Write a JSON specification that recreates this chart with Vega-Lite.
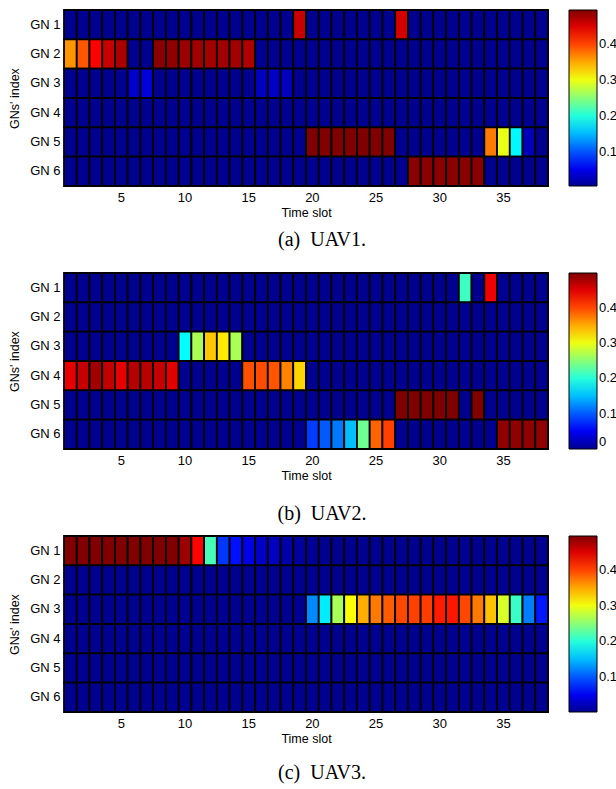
{
"$schema": "https://vega.github.io/schema/vega-lite/v6.json",
"background": "white",
"padding": {"left": 8, "top": 8, "right": 0, "bottom": 5},
"config": {
  "font": "Liberation Sans",
  "view": {"stroke": "#000", "strokeWidth": 1},
  "axis": {"labelFont": "Liberation Sans", "labelFontSize": 13, "labelColor": "#000", "titleFont": "Liberation Sans", "titleFontSize": 12.5, "titleFontWeight": "normal", "titleColor": "#000", "ticks": false, "domain": false, "grid": false},
  "legend": {"gradientLength": 176, "gradientThickness": 28, "gradientStrokeColor": "#000", "gradientStrokeWidth": 1, "labelFont": "Liberation Sans", "labelFontSize": 13, "labelColor": "#000", "labelBaseline": "middle", "labelOffset": 5, "offset": 21, "padding": 0},
  "concat": {"spacing": 10}
},
"resolve": {"scale": {"color": "independent"}, "legend": {"color": "independent"}},
"datasets": {
"u1": [
{"g":"GN 1","t":1,"v":0.004},{"g":"GN 1","t":2,"v":0.004},{"g":"GN 1","t":3,"v":0.004},{"g":"GN 1","t":4,"v":0.004},{"g":"GN 1","t":5,"v":0.004},{"g":"GN 1","t":6,"v":0.004},{"g":"GN 1","t":7,"v":0.004},{"g":"GN 1","t":8,"v":0.004},{"g":"GN 1","t":9,"v":0.004},{"g":"GN 1","t":10,"v":0.004},
{"g":"GN 1","t":11,"v":0.004},{"g":"GN 1","t":12,"v":0.004},{"g":"GN 1","t":13,"v":0.004},{"g":"GN 1","t":14,"v":0.004},{"g":"GN 1","t":15,"v":0.004},{"g":"GN 1","t":16,"v":0.004},{"g":"GN 1","t":17,"v":0.004},{"g":"GN 1","t":18,"v":0.004},{"g":"GN 1","t":19,"v":0.46},{"g":"GN 1","t":20,"v":0.004},
{"g":"GN 1","t":21,"v":0.004},{"g":"GN 1","t":22,"v":0.004},{"g":"GN 1","t":23,"v":0.004},{"g":"GN 1","t":24,"v":0.004},{"g":"GN 1","t":25,"v":0.004},{"g":"GN 1","t":26,"v":0.004},{"g":"GN 1","t":27,"v":0.455},{"g":"GN 1","t":28,"v":0.004},{"g":"GN 1","t":29,"v":0.004},{"g":"GN 1","t":30,"v":0.004},
{"g":"GN 1","t":31,"v":0.004},{"g":"GN 1","t":32,"v":0.004},{"g":"GN 1","t":33,"v":0.004},{"g":"GN 1","t":34,"v":0.004},{"g":"GN 1","t":35,"v":0.004},{"g":"GN 1","t":36,"v":0.004},{"g":"GN 1","t":37,"v":0.004},{"g":"GN 1","t":38,"v":0.004},
{"g":"GN 2","t":1,"v":0.36},{"g":"GN 2","t":2,"v":0.39},{"g":"GN 2","t":3,"v":0.432},{"g":"GN 2","t":4,"v":0.46},{"g":"GN 2","t":5,"v":0.474},{"g":"GN 2","t":6,"v":0.004},{"g":"GN 2","t":7,"v":0.004},{"g":"GN 2","t":8,"v":0.49},{"g":"GN 2","t":9,"v":0.487},{"g":"GN 2","t":10,"v":0.482},
{"g":"GN 2","t":11,"v":0.48},{"g":"GN 2","t":12,"v":0.478},{"g":"GN 2","t":13,"v":0.479},{"g":"GN 2","t":14,"v":0.478},{"g":"GN 2","t":15,"v":0.472},{"g":"GN 2","t":16,"v":0.004},{"g":"GN 2","t":17,"v":0.004},{"g":"GN 2","t":18,"v":0.004},{"g":"GN 2","t":19,"v":0.004},{"g":"GN 2","t":20,"v":0.004},
{"g":"GN 2","t":21,"v":0.004},{"g":"GN 2","t":22,"v":0.004},{"g":"GN 2","t":23,"v":0.004},{"g":"GN 2","t":24,"v":0.004},{"g":"GN 2","t":25,"v":0.004},{"g":"GN 2","t":26,"v":0.004},{"g":"GN 2","t":27,"v":0.004},{"g":"GN 2","t":28,"v":0.004},{"g":"GN 2","t":29,"v":0.004},{"g":"GN 2","t":30,"v":0.004},
{"g":"GN 2","t":31,"v":0.004},{"g":"GN 2","t":32,"v":0.004},{"g":"GN 2","t":33,"v":0.004},{"g":"GN 2","t":34,"v":0.004},{"g":"GN 2","t":35,"v":0.004},{"g":"GN 2","t":36,"v":0.004},{"g":"GN 2","t":37,"v":0.004},{"g":"GN 2","t":38,"v":0.004},
{"g":"GN 3","t":1,"v":0.004},{"g":"GN 3","t":2,"v":0.004},{"g":"GN 3","t":3,"v":0.004},{"g":"GN 3","t":4,"v":0.004},{"g":"GN 3","t":5,"v":0.004},{"g":"GN 3","t":6,"v":0.033},{"g":"GN 3","t":7,"v":0.04},{"g":"GN 3","t":8,"v":0.004},{"g":"GN 3","t":9,"v":0.004},{"g":"GN 3","t":10,"v":0.004},
{"g":"GN 3","t":11,"v":0.004},{"g":"GN 3","t":12,"v":0.004},{"g":"GN 3","t":13,"v":0.004},{"g":"GN 3","t":14,"v":0.004},{"g":"GN 3","t":15,"v":0.004},{"g":"GN 3","t":16,"v":0.028},{"g":"GN 3","t":17,"v":0.03},{"g":"GN 3","t":18,"v":0.026},{"g":"GN 3","t":19,"v":0.004},{"g":"GN 3","t":20,"v":0.004},
{"g":"GN 3","t":21,"v":0.004},{"g":"GN 3","t":22,"v":0.004},{"g":"GN 3","t":23,"v":0.004},{"g":"GN 3","t":24,"v":0.004},{"g":"GN 3","t":25,"v":0.004},{"g":"GN 3","t":26,"v":0.004},{"g":"GN 3","t":27,"v":0.004},{"g":"GN 3","t":28,"v":0.004},{"g":"GN 3","t":29,"v":0.004},{"g":"GN 3","t":30,"v":0.004},
{"g":"GN 3","t":31,"v":0.004},{"g":"GN 3","t":32,"v":0.004},{"g":"GN 3","t":33,"v":0.004},{"g":"GN 3","t":34,"v":0.004},{"g":"GN 3","t":35,"v":0.004},{"g":"GN 3","t":36,"v":0.004},{"g":"GN 3","t":37,"v":0.004},{"g":"GN 3","t":38,"v":0.004},
{"g":"GN 4","t":1,"v":0.004},{"g":"GN 4","t":2,"v":0.004},{"g":"GN 4","t":3,"v":0.004},{"g":"GN 4","t":4,"v":0.004},{"g":"GN 4","t":5,"v":0.004},{"g":"GN 4","t":6,"v":0.004},{"g":"GN 4","t":7,"v":0.004},{"g":"GN 4","t":8,"v":0.004},{"g":"GN 4","t":9,"v":0.004},{"g":"GN 4","t":10,"v":0.004},
{"g":"GN 4","t":11,"v":0.004},{"g":"GN 4","t":12,"v":0.004},{"g":"GN 4","t":13,"v":0.004},{"g":"GN 4","t":14,"v":0.004},{"g":"GN 4","t":15,"v":0.004},{"g":"GN 4","t":16,"v":0.004},{"g":"GN 4","t":17,"v":0.004},{"g":"GN 4","t":18,"v":0.004},{"g":"GN 4","t":19,"v":0.004},{"g":"GN 4","t":20,"v":0.004},
{"g":"GN 4","t":21,"v":0.004},{"g":"GN 4","t":22,"v":0.004},{"g":"GN 4","t":23,"v":0.004},{"g":"GN 4","t":24,"v":0.004},{"g":"GN 4","t":25,"v":0.004},{"g":"GN 4","t":26,"v":0.004},{"g":"GN 4","t":27,"v":0.004},{"g":"GN 4","t":28,"v":0.004},{"g":"GN 4","t":29,"v":0.004},{"g":"GN 4","t":30,"v":0.004},
{"g":"GN 4","t":31,"v":0.004},{"g":"GN 4","t":32,"v":0.004},{"g":"GN 4","t":33,"v":0.004},{"g":"GN 4","t":34,"v":0.004},{"g":"GN 4","t":35,"v":0.004},{"g":"GN 4","t":36,"v":0.004},{"g":"GN 4","t":37,"v":0.004},{"g":"GN 4","t":38,"v":0.004},
{"g":"GN 5","t":1,"v":0.004},{"g":"GN 5","t":2,"v":0.004},{"g":"GN 5","t":3,"v":0.004},{"g":"GN 5","t":4,"v":0.004},{"g":"GN 5","t":5,"v":0.004},{"g":"GN 5","t":6,"v":0.004},{"g":"GN 5","t":7,"v":0.004},{"g":"GN 5","t":8,"v":0.004},{"g":"GN 5","t":9,"v":0.004},{"g":"GN 5","t":10,"v":0.004},
{"g":"GN 5","t":11,"v":0.004},{"g":"GN 5","t":12,"v":0.004},{"g":"GN 5","t":13,"v":0.004},{"g":"GN 5","t":14,"v":0.004},{"g":"GN 5","t":15,"v":0.004},{"g":"GN 5","t":16,"v":0.004},{"g":"GN 5","t":17,"v":0.004},{"g":"GN 5","t":18,"v":0.004},{"g":"GN 5","t":19,"v":0.004},{"g":"GN 5","t":20,"v":0.495},
{"g":"GN 5","t":21,"v":0.495},{"g":"GN 5","t":22,"v":0.495},{"g":"GN 5","t":23,"v":0.495},{"g":"GN 5","t":24,"v":0.495},{"g":"GN 5","t":25,"v":0.495},{"g":"GN 5","t":26,"v":0.495},{"g":"GN 5","t":27,"v":0.004},{"g":"GN 5","t":28,"v":0.004},{"g":"GN 5","t":29,"v":0.004},{"g":"GN 5","t":30,"v":0.004},
{"g":"GN 5","t":31,"v":0.004},{"g":"GN 5","t":32,"v":0.004},{"g":"GN 5","t":33,"v":0.004},{"g":"GN 5","t":34,"v":0.373},{"g":"GN 5","t":35,"v":0.297},{"g":"GN 5","t":36,"v":0.18},{"g":"GN 5","t":37,"v":0.025},{"g":"GN 5","t":38,"v":0.004},
{"g":"GN 6","t":1,"v":0.004},{"g":"GN 6","t":2,"v":0.004},{"g":"GN 6","t":3,"v":0.004},{"g":"GN 6","t":4,"v":0.004},{"g":"GN 6","t":5,"v":0.004},{"g":"GN 6","t":6,"v":0.004},{"g":"GN 6","t":7,"v":0.004},{"g":"GN 6","t":8,"v":0.004},{"g":"GN 6","t":9,"v":0.004},{"g":"GN 6","t":10,"v":0.004},
{"g":"GN 6","t":11,"v":0.004},{"g":"GN 6","t":12,"v":0.004},{"g":"GN 6","t":13,"v":0.004},{"g":"GN 6","t":14,"v":0.004},{"g":"GN 6","t":15,"v":0.004},{"g":"GN 6","t":16,"v":0.004},{"g":"GN 6","t":17,"v":0.004},{"g":"GN 6","t":18,"v":0.004},{"g":"GN 6","t":19,"v":0.004},{"g":"GN 6","t":20,"v":0.004},
{"g":"GN 6","t":21,"v":0.004},{"g":"GN 6","t":22,"v":0.004},{"g":"GN 6","t":23,"v":0.004},{"g":"GN 6","t":24,"v":0.004},{"g":"GN 6","t":25,"v":0.004},{"g":"GN 6","t":26,"v":0.004},{"g":"GN 6","t":27,"v":0.004},{"g":"GN 6","t":28,"v":0.49},{"g":"GN 6","t":29,"v":0.49},{"g":"GN 6","t":30,"v":0.49},
{"g":"GN 6","t":31,"v":0.49},{"g":"GN 6","t":32,"v":0.49},{"g":"GN 6","t":33,"v":0.49},{"g":"GN 6","t":34,"v":0.004},{"g":"GN 6","t":35,"v":0.004},{"g":"GN 6","t":36,"v":0.004},{"g":"GN 6","t":37,"v":0.004},{"g":"GN 6","t":38,"v":0.004}
],
"u2": [
{"g":"GN 1","t":1,"v":0},{"g":"GN 1","t":2,"v":0},{"g":"GN 1","t":3,"v":0},{"g":"GN 1","t":4,"v":0},{"g":"GN 1","t":5,"v":0},{"g":"GN 1","t":6,"v":0},{"g":"GN 1","t":7,"v":0},{"g":"GN 1","t":8,"v":0},{"g":"GN 1","t":9,"v":0},{"g":"GN 1","t":10,"v":0},
{"g":"GN 1","t":11,"v":0},{"g":"GN 1","t":12,"v":0},{"g":"GN 1","t":13,"v":0},{"g":"GN 1","t":14,"v":0},{"g":"GN 1","t":15,"v":0},{"g":"GN 1","t":16,"v":0},{"g":"GN 1","t":17,"v":0},{"g":"GN 1","t":18,"v":0},{"g":"GN 1","t":19,"v":0},{"g":"GN 1","t":20,"v":0},
{"g":"GN 1","t":21,"v":0},{"g":"GN 1","t":22,"v":0},{"g":"GN 1","t":23,"v":0},{"g":"GN 1","t":24,"v":0},{"g":"GN 1","t":25,"v":0},{"g":"GN 1","t":26,"v":0},{"g":"GN 1","t":27,"v":0},{"g":"GN 1","t":28,"v":0},{"g":"GN 1","t":29,"v":0},{"g":"GN 1","t":30,"v":0},
{"g":"GN 1","t":31,"v":0},{"g":"GN 1","t":32,"v":0.212},{"g":"GN 1","t":33,"v":0},{"g":"GN 1","t":34,"v":0.442},{"g":"GN 1","t":35,"v":0},{"g":"GN 1","t":36,"v":0},{"g":"GN 1","t":37,"v":0},{"g":"GN 1","t":38,"v":0},
{"g":"GN 2","t":1,"v":0},{"g":"GN 2","t":2,"v":0},{"g":"GN 2","t":3,"v":0},{"g":"GN 2","t":4,"v":0},{"g":"GN 2","t":5,"v":0},{"g":"GN 2","t":6,"v":0},{"g":"GN 2","t":7,"v":0},{"g":"GN 2","t":8,"v":0},{"g":"GN 2","t":9,"v":0},{"g":"GN 2","t":10,"v":0},
{"g":"GN 2","t":11,"v":0},{"g":"GN 2","t":12,"v":0},{"g":"GN 2","t":13,"v":0},{"g":"GN 2","t":14,"v":0},{"g":"GN 2","t":15,"v":0},{"g":"GN 2","t":16,"v":0},{"g":"GN 2","t":17,"v":0},{"g":"GN 2","t":18,"v":0},{"g":"GN 2","t":19,"v":0},{"g":"GN 2","t":20,"v":0},
{"g":"GN 2","t":21,"v":0},{"g":"GN 2","t":22,"v":0},{"g":"GN 2","t":23,"v":0},{"g":"GN 2","t":24,"v":0},{"g":"GN 2","t":25,"v":0},{"g":"GN 2","t":26,"v":0},{"g":"GN 2","t":27,"v":0},{"g":"GN 2","t":28,"v":0},{"g":"GN 2","t":29,"v":0},{"g":"GN 2","t":30,"v":0},
{"g":"GN 2","t":31,"v":0},{"g":"GN 2","t":32,"v":0},{"g":"GN 2","t":33,"v":0},{"g":"GN 2","t":34,"v":0},{"g":"GN 2","t":35,"v":0},{"g":"GN 2","t":36,"v":0},{"g":"GN 2","t":37,"v":0},{"g":"GN 2","t":38,"v":0},
{"g":"GN 3","t":1,"v":0},{"g":"GN 3","t":2,"v":0},{"g":"GN 3","t":3,"v":0},{"g":"GN 3","t":4,"v":0},{"g":"GN 3","t":5,"v":0},{"g":"GN 3","t":6,"v":0},{"g":"GN 3","t":7,"v":0},{"g":"GN 3","t":8,"v":0},{"g":"GN 3","t":9,"v":0},{"g":"GN 3","t":10,"v":0.182},
{"g":"GN 3","t":11,"v":0.266},{"g":"GN 3","t":12,"v":0.336},{"g":"GN 3","t":13,"v":0.318},{"g":"GN 3","t":14,"v":0.266},{"g":"GN 3","t":15,"v":0},{"g":"GN 3","t":16,"v":0},{"g":"GN 3","t":17,"v":0},{"g":"GN 3","t":18,"v":0},{"g":"GN 3","t":19,"v":0},{"g":"GN 3","t":20,"v":0},
{"g":"GN 3","t":21,"v":0},{"g":"GN 3","t":22,"v":0},{"g":"GN 3","t":23,"v":0},{"g":"GN 3","t":24,"v":0},{"g":"GN 3","t":25,"v":0},{"g":"GN 3","t":26,"v":0},{"g":"GN 3","t":27,"v":0},{"g":"GN 3","t":28,"v":0},{"g":"GN 3","t":29,"v":0},{"g":"GN 3","t":30,"v":0},
{"g":"GN 3","t":31,"v":0},{"g":"GN 3","t":32,"v":0},{"g":"GN 3","t":33,"v":0},{"g":"GN 3","t":34,"v":0},{"g":"GN 3","t":35,"v":0},{"g":"GN 3","t":36,"v":0},{"g":"GN 3","t":37,"v":0},{"g":"GN 3","t":38,"v":0},
{"g":"GN 4","t":1,"v":0.447},{"g":"GN 4","t":2,"v":0.463},{"g":"GN 4","t":3,"v":0.482},{"g":"GN 4","t":4,"v":0.465},{"g":"GN 4","t":5,"v":0.447},{"g":"GN 4","t":6,"v":0.472},{"g":"GN 4","t":7,"v":0.47},{"g":"GN 4","t":8,"v":0.463},{"g":"GN 4","t":9,"v":0.45},{"g":"GN 4","t":10,"v":0},
{"g":"GN 4","t":11,"v":0},{"g":"GN 4","t":12,"v":0},{"g":"GN 4","t":13,"v":0},{"g":"GN 4","t":14,"v":0},{"g":"GN 4","t":15,"v":0.395},{"g":"GN 4","t":16,"v":0.397},{"g":"GN 4","t":17,"v":0.393},{"g":"GN 4","t":18,"v":0.37},{"g":"GN 4","t":19,"v":0.329},{"g":"GN 4","t":20,"v":0},
{"g":"GN 4","t":21,"v":0},{"g":"GN 4","t":22,"v":0},{"g":"GN 4","t":23,"v":0},{"g":"GN 4","t":24,"v":0},{"g":"GN 4","t":25,"v":0},{"g":"GN 4","t":26,"v":0},{"g":"GN 4","t":27,"v":0},{"g":"GN 4","t":28,"v":0},{"g":"GN 4","t":29,"v":0},{"g":"GN 4","t":30,"v":0},
{"g":"GN 4","t":31,"v":0},{"g":"GN 4","t":32,"v":0},{"g":"GN 4","t":33,"v":0},{"g":"GN 4","t":34,"v":0},{"g":"GN 4","t":35,"v":0},{"g":"GN 4","t":36,"v":0},{"g":"GN 4","t":37,"v":0},{"g":"GN 4","t":38,"v":0},
{"g":"GN 5","t":1,"v":0},{"g":"GN 5","t":2,"v":0},{"g":"GN 5","t":3,"v":0},{"g":"GN 5","t":4,"v":0},{"g":"GN 5","t":5,"v":0},{"g":"GN 5","t":6,"v":0},{"g":"GN 5","t":7,"v":0},{"g":"GN 5","t":8,"v":0},{"g":"GN 5","t":9,"v":0},{"g":"GN 5","t":10,"v":0},
{"g":"GN 5","t":11,"v":0},{"g":"GN 5","t":12,"v":0},{"g":"GN 5","t":13,"v":0},{"g":"GN 5","t":14,"v":0},{"g":"GN 5","t":15,"v":0},{"g":"GN 5","t":16,"v":0},{"g":"GN 5","t":17,"v":0},{"g":"GN 5","t":18,"v":0},{"g":"GN 5","t":19,"v":0},{"g":"GN 5","t":20,"v":0},
{"g":"GN 5","t":21,"v":0},{"g":"GN 5","t":22,"v":0},{"g":"GN 5","t":23,"v":0},{"g":"GN 5","t":24,"v":0},{"g":"GN 5","t":25,"v":0},{"g":"GN 5","t":26,"v":0},{"g":"GN 5","t":27,"v":0.498},{"g":"GN 5","t":28,"v":0.498},{"g":"GN 5","t":29,"v":0.498},{"g":"GN 5","t":30,"v":0.498},
{"g":"GN 5","t":31,"v":0.498},{"g":"GN 5","t":32,"v":0},{"g":"GN 5","t":33,"v":0.498},{"g":"GN 5","t":34,"v":0},{"g":"GN 5","t":35,"v":0},{"g":"GN 5","t":36,"v":0},{"g":"GN 5","t":37,"v":0},{"g":"GN 5","t":38,"v":0},
{"g":"GN 6","t":1,"v":0},{"g":"GN 6","t":2,"v":0},{"g":"GN 6","t":3,"v":0},{"g":"GN 6","t":4,"v":0},{"g":"GN 6","t":5,"v":0},{"g":"GN 6","t":6,"v":0},{"g":"GN 6","t":7,"v":0},{"g":"GN 6","t":8,"v":0},{"g":"GN 6","t":9,"v":0},{"g":"GN 6","t":10,"v":0},
{"g":"GN 6","t":11,"v":0},{"g":"GN 6","t":12,"v":0},{"g":"GN 6","t":13,"v":0},{"g":"GN 6","t":14,"v":0},{"g":"GN 6","t":15,"v":0},{"g":"GN 6","t":16,"v":0},{"g":"GN 6","t":17,"v":0},{"g":"GN 6","t":18,"v":0},{"g":"GN 6","t":19,"v":0},{"g":"GN 6","t":20,"v":0.085},
{"g":"GN 6","t":21,"v":0.1},{"g":"GN 6","t":22,"v":0.115},{"g":"GN 6","t":23,"v":0.15},{"g":"GN 6","t":24,"v":0.236},{"g":"GN 6","t":25,"v":0.385},{"g":"GN 6","t":26,"v":0.403},{"g":"GN 6","t":27,"v":0},{"g":"GN 6","t":28,"v":0},{"g":"GN 6","t":29,"v":0},{"g":"GN 6","t":30,"v":0},
{"g":"GN 6","t":31,"v":0},{"g":"GN 6","t":32,"v":0},{"g":"GN 6","t":33,"v":0},{"g":"GN 6","t":34,"v":0},{"g":"GN 6","t":35,"v":0.49},{"g":"GN 6","t":36,"v":0.49},{"g":"GN 6","t":37,"v":0.49},{"g":"GN 6","t":38,"v":0.49}
],
"u3": [
{"g":"GN 1","t":1,"v":0.494},{"g":"GN 1","t":2,"v":0.494},{"g":"GN 1","t":3,"v":0.494},{"g":"GN 1","t":4,"v":0.494},{"g":"GN 1","t":5,"v":0.494},{"g":"GN 1","t":6,"v":0.494},{"g":"GN 1","t":7,"v":0.494},{"g":"GN 1","t":8,"v":0.494},{"g":"GN 1","t":9,"v":0.494},{"g":"GN 1","t":10,"v":0.48},
{"g":"GN 1","t":11,"v":0.43},{"g":"GN 1","t":12,"v":0.217},{"g":"GN 1","t":13,"v":0.084},{"g":"GN 1","t":14,"v":0.065},{"g":"GN 1","t":15,"v":0.045},{"g":"GN 1","t":16,"v":0.03},{"g":"GN 1","t":17,"v":0.025},{"g":"GN 1","t":18,"v":0.015},{"g":"GN 1","t":19,"v":0.009},{"g":"GN 1","t":20,"v":0.006},
{"g":"GN 1","t":21,"v":0.003},{"g":"GN 1","t":22,"v":0.003},{"g":"GN 1","t":23,"v":0.003},{"g":"GN 1","t":24,"v":0.003},{"g":"GN 1","t":25,"v":0.003},{"g":"GN 1","t":26,"v":0.003},{"g":"GN 1","t":27,"v":0.003},{"g":"GN 1","t":28,"v":0.003},{"g":"GN 1","t":29,"v":0.003},{"g":"GN 1","t":30,"v":0.003},
{"g":"GN 1","t":31,"v":0.003},{"g":"GN 1","t":32,"v":0.003},{"g":"GN 1","t":33,"v":0.003},{"g":"GN 1","t":34,"v":0.003},{"g":"GN 1","t":35,"v":0.003},{"g":"GN 1","t":36,"v":0.003},{"g":"GN 1","t":37,"v":0.003},{"g":"GN 1","t":38,"v":0.003},
{"g":"GN 2","t":1,"v":0.003},{"g":"GN 2","t":2,"v":0.003},{"g":"GN 2","t":3,"v":0.003},{"g":"GN 2","t":4,"v":0.003},{"g":"GN 2","t":5,"v":0.003},{"g":"GN 2","t":6,"v":0.003},{"g":"GN 2","t":7,"v":0.003},{"g":"GN 2","t":8,"v":0.003},{"g":"GN 2","t":9,"v":0.003},{"g":"GN 2","t":10,"v":0.003},
{"g":"GN 2","t":11,"v":0.003},{"g":"GN 2","t":12,"v":0.003},{"g":"GN 2","t":13,"v":0.003},{"g":"GN 2","t":14,"v":0.003},{"g":"GN 2","t":15,"v":0.003},{"g":"GN 2","t":16,"v":0.003},{"g":"GN 2","t":17,"v":0.003},{"g":"GN 2","t":18,"v":0.003},{"g":"GN 2","t":19,"v":0.003},{"g":"GN 2","t":20,"v":0.003},
{"g":"GN 2","t":21,"v":0.003},{"g":"GN 2","t":22,"v":0.003},{"g":"GN 2","t":23,"v":0.003},{"g":"GN 2","t":24,"v":0.003},{"g":"GN 2","t":25,"v":0.003},{"g":"GN 2","t":26,"v":0.003},{"g":"GN 2","t":27,"v":0.003},{"g":"GN 2","t":28,"v":0.003},{"g":"GN 2","t":29,"v":0.003},{"g":"GN 2","t":30,"v":0.003},
{"g":"GN 2","t":31,"v":0.003},{"g":"GN 2","t":32,"v":0.003},{"g":"GN 2","t":33,"v":0.003},{"g":"GN 2","t":34,"v":0.003},{"g":"GN 2","t":35,"v":0.003},{"g":"GN 2","t":36,"v":0.003},{"g":"GN 2","t":37,"v":0.003},{"g":"GN 2","t":38,"v":0.003},
{"g":"GN 3","t":1,"v":0.003},{"g":"GN 3","t":2,"v":0.003},{"g":"GN 3","t":3,"v":0.003},{"g":"GN 3","t":4,"v":0.003},{"g":"GN 3","t":5,"v":0.003},{"g":"GN 3","t":6,"v":0.003},{"g":"GN 3","t":7,"v":0.003},{"g":"GN 3","t":8,"v":0.003},{"g":"GN 3","t":9,"v":0.003},{"g":"GN 3","t":10,"v":0.003},
{"g":"GN 3","t":11,"v":0.003},{"g":"GN 3","t":12,"v":0.003},{"g":"GN 3","t":13,"v":0.003},{"g":"GN 3","t":14,"v":0.003},{"g":"GN 3","t":15,"v":0.003},{"g":"GN 3","t":16,"v":0.003},{"g":"GN 3","t":17,"v":0.003},{"g":"GN 3","t":18,"v":0.003},{"g":"GN 3","t":19,"v":0.003},{"g":"GN 3","t":20,"v":0.124},
{"g":"GN 3","t":21,"v":0.173},{"g":"GN 3","t":22,"v":0.264},{"g":"GN 3","t":23,"v":0.306},{"g":"GN 3","t":24,"v":0.347},{"g":"GN 3","t":25,"v":0.372},{"g":"GN 3","t":26,"v":0.387},{"g":"GN 3","t":27,"v":0.397},{"g":"GN 3","t":28,"v":0.4},{"g":"GN 3","t":29,"v":0.402},{"g":"GN 3","t":30,"v":0.419},
{"g":"GN 3","t":31,"v":0.421},{"g":"GN 3","t":32,"v":0.397},{"g":"GN 3","t":33,"v":0.372},{"g":"GN 3","t":34,"v":0.337},{"g":"GN 3","t":35,"v":0.288},{"g":"GN 3","t":36,"v":0.21},{"g":"GN 3","t":37,"v":0.119},{"g":"GN 3","t":38,"v":0.069},
{"g":"GN 4","t":1,"v":0.003},{"g":"GN 4","t":2,"v":0.003},{"g":"GN 4","t":3,"v":0.003},{"g":"GN 4","t":4,"v":0.003},{"g":"GN 4","t":5,"v":0.003},{"g":"GN 4","t":6,"v":0.003},{"g":"GN 4","t":7,"v":0.003},{"g":"GN 4","t":8,"v":0.003},{"g":"GN 4","t":9,"v":0.003},{"g":"GN 4","t":10,"v":0.003},
{"g":"GN 4","t":11,"v":0.003},{"g":"GN 4","t":12,"v":0.003},{"g":"GN 4","t":13,"v":0.003},{"g":"GN 4","t":14,"v":0.003},{"g":"GN 4","t":15,"v":0.003},{"g":"GN 4","t":16,"v":0.003},{"g":"GN 4","t":17,"v":0.003},{"g":"GN 4","t":18,"v":0.003},{"g":"GN 4","t":19,"v":0.003},{"g":"GN 4","t":20,"v":0.003},
{"g":"GN 4","t":21,"v":0.003},{"g":"GN 4","t":22,"v":0.003},{"g":"GN 4","t":23,"v":0.003},{"g":"GN 4","t":24,"v":0.003},{"g":"GN 4","t":25,"v":0.003},{"g":"GN 4","t":26,"v":0.003},{"g":"GN 4","t":27,"v":0.003},{"g":"GN 4","t":28,"v":0.003},{"g":"GN 4","t":29,"v":0.003},{"g":"GN 4","t":30,"v":0.003},
{"g":"GN 4","t":31,"v":0.003},{"g":"GN 4","t":32,"v":0.003},{"g":"GN 4","t":33,"v":0.003},{"g":"GN 4","t":34,"v":0.003},{"g":"GN 4","t":35,"v":0.003},{"g":"GN 4","t":36,"v":0.003},{"g":"GN 4","t":37,"v":0.003},{"g":"GN 4","t":38,"v":0.003},
{"g":"GN 5","t":1,"v":0.003},{"g":"GN 5","t":2,"v":0.003},{"g":"GN 5","t":3,"v":0.003},{"g":"GN 5","t":4,"v":0.003},{"g":"GN 5","t":5,"v":0.003},{"g":"GN 5","t":6,"v":0.003},{"g":"GN 5","t":7,"v":0.003},{"g":"GN 5","t":8,"v":0.003},{"g":"GN 5","t":9,"v":0.003},{"g":"GN 5","t":10,"v":0.003},
{"g":"GN 5","t":11,"v":0.003},{"g":"GN 5","t":12,"v":0.003},{"g":"GN 5","t":13,"v":0.003},{"g":"GN 5","t":14,"v":0.003},{"g":"GN 5","t":15,"v":0.003},{"g":"GN 5","t":16,"v":0.003},{"g":"GN 5","t":17,"v":0.003},{"g":"GN 5","t":18,"v":0.003},{"g":"GN 5","t":19,"v":0.003},{"g":"GN 5","t":20,"v":0.003},
{"g":"GN 5","t":21,"v":0.003},{"g":"GN 5","t":22,"v":0.003},{"g":"GN 5","t":23,"v":0.003},{"g":"GN 5","t":24,"v":0.003},{"g":"GN 5","t":25,"v":0.003},{"g":"GN 5","t":26,"v":0.003},{"g":"GN 5","t":27,"v":0.003},{"g":"GN 5","t":28,"v":0.003},{"g":"GN 5","t":29,"v":0.003},{"g":"GN 5","t":30,"v":0.003},
{"g":"GN 5","t":31,"v":0.003},{"g":"GN 5","t":32,"v":0.003},{"g":"GN 5","t":33,"v":0.003},{"g":"GN 5","t":34,"v":0.003},{"g":"GN 5","t":35,"v":0.003},{"g":"GN 5","t":36,"v":0.003},{"g":"GN 5","t":37,"v":0.003},{"g":"GN 5","t":38,"v":0.003},
{"g":"GN 6","t":1,"v":0.003},{"g":"GN 6","t":2,"v":0.003},{"g":"GN 6","t":3,"v":0.003},{"g":"GN 6","t":4,"v":0.003},{"g":"GN 6","t":5,"v":0.003},{"g":"GN 6","t":6,"v":0.003},{"g":"GN 6","t":7,"v":0.003},{"g":"GN 6","t":8,"v":0.003},{"g":"GN 6","t":9,"v":0.003},{"g":"GN 6","t":10,"v":0.003},
{"g":"GN 6","t":11,"v":0.003},{"g":"GN 6","t":12,"v":0.003},{"g":"GN 6","t":13,"v":0.003},{"g":"GN 6","t":14,"v":0.003},{"g":"GN 6","t":15,"v":0.003},{"g":"GN 6","t":16,"v":0.003},{"g":"GN 6","t":17,"v":0.003},{"g":"GN 6","t":18,"v":0.003},{"g":"GN 6","t":19,"v":0.003},{"g":"GN 6","t":20,"v":0.003},
{"g":"GN 6","t":21,"v":0.003},{"g":"GN 6","t":22,"v":0.003},{"g":"GN 6","t":23,"v":0.003},{"g":"GN 6","t":24,"v":0.003},{"g":"GN 6","t":25,"v":0.003},{"g":"GN 6","t":26,"v":0.003},{"g":"GN 6","t":27,"v":0.003},{"g":"GN 6","t":28,"v":0.003},{"g":"GN 6","t":29,"v":0.003},{"g":"GN 6","t":30,"v":0.003},
{"g":"GN 6","t":31,"v":0.003},{"g":"GN 6","t":32,"v":0.003},{"g":"GN 6","t":33,"v":0.003},{"g":"GN 6","t":34,"v":0.003},{"g":"GN 6","t":35,"v":0.003},{"g":"GN 6","t":36,"v":0.003},{"g":"GN 6","t":37,"v":0.003},{"g":"GN 6","t":38,"v":0.003}
]
},
"vconcat": [
{
  "data": {"name": "u1"},
  "width": 484, "height": 176,
  "title": {"text": "(a)\u00a0\u00a0UAV1.", "subtitle": " ", "subtitleFontSize": 8, "subtitlePadding": 3, "orient": "bottom", "offset": 11, "font": "Liberation Serif", "fontSize": 20, "fontWeight": "normal", "color": "#000", "dx": 16},
  "mark": {"type": "rect", "stroke": "#000", "strokeWidth": 1.8},
  "encoding": {
    "x": {"field": "t", "type": "ordinal", "scale": {"domain": [1,2,3,4,5,6,7,8,9,10,11,12,13,14,15,16,17,18,19,20,21,22,23,24,25,26,27,28,29,30,31,32,33,34,35,36,37,38], "paddingInner": 0, "paddingOuter": 0}, "axis": {"values": [5,10,15,20,25,30,35], "labelAngle": 0, "title": "Time slot", "labelPadding": 5, "titlePadding": 2}},
    "y": {"field": "g", "type": "nominal", "scale": {"domain": ["GN 1","GN 2","GN 3","GN 4","GN 5","GN 6"], "paddingInner": 0, "paddingOuter": 0}, "axis": {"title": "GNs' index", "labelPadding": 4, "titlePadding": 8}},
    "color": {"field": "v", "type": "quantitative", "scale": {"domain": [0.004, 0.0585, 0.1832, 0.3079, 0.4327, 0.495], "range": ["#000090", "#0000ff", "#00ffff", "#ffff00", "#ff0000", "#800000"], "interpolate": "rgb"}, "legend": {"title": null, "values": [0.1, 0.2, 0.3, 0.4], "format": "~g"}}
  }
},
{
  "data": {"name": "u2"},
  "width": 484, "height": 176,
  "title": {"text": "(b)\u00a0\u00a0UAV2.", "orient": "bottom", "offset": 22, "font": "Liberation Serif", "fontSize": 20, "fontWeight": "normal", "color": "#000", "dx": 16},
  "mark": {"type": "rect", "stroke": "#000", "strokeWidth": 1.8},
  "encoding": {
    "x": {"field": "t", "type": "ordinal", "scale": {"domain": [1,2,3,4,5,6,7,8,9,10,11,12,13,14,15,16,17,18,19,20,21,22,23,24,25,26,27,28,29,30,31,32,33,34,35,36,37,38], "paddingInner": 0, "paddingOuter": 0}, "axis": {"values": [5,10,15,20,25,30,35], "labelAngle": 0, "title": "Time slot", "labelPadding": 5, "titlePadding": 2}},
    "y": {"field": "g", "type": "nominal", "scale": {"domain": ["GN 1","GN 2","GN 3","GN 4","GN 5","GN 6"], "paddingInner": 0, "paddingOuter": 0}, "axis": {"title": "GNs' index", "labelPadding": 4, "titlePadding": 8}},
    "color": {"field": "v", "type": "quantitative", "scale": {"domain": [0, 0.0553, 0.1818, 0.3083, 0.4348, 0.498], "range": ["#000090", "#0000ff", "#00ffff", "#ffff00", "#ff0000", "#800000"], "interpolate": "rgb"}, "legend": {"title": null, "values": [0, 0.1, 0.2, 0.3, 0.4], "format": "~g"}}
  }
},
{
  "data": {"name": "u3"},
  "width": 484, "height": 176,
  "title": {"text": "(c)\u00a0\u00a0UAV3.", "orient": "bottom", "offset": 18, "font": "Liberation Serif", "fontSize": 20, "fontWeight": "normal", "color": "#000", "dx": 16},
  "mark": {"type": "rect", "stroke": "#000", "strokeWidth": 1.8},
  "encoding": {
    "x": {"field": "t", "type": "ordinal", "scale": {"domain": [1,2,3,4,5,6,7,8,9,10,11,12,13,14,15,16,17,18,19,20,21,22,23,24,25,26,27,28,29,30,31,32,33,34,35,36,37,38], "paddingInner": 0, "paddingOuter": 0}, "axis": {"values": [5,10,15,20,25,30,35], "labelAngle": 0, "title": "Time slot", "labelPadding": 5, "titlePadding": 2}},
    "y": {"field": "g", "type": "nominal", "scale": {"domain": ["GN 1","GN 2","GN 3","GN 4","GN 5","GN 6"], "paddingInner": 0, "paddingOuter": 0}, "axis": {"title": "GNs' index", "labelPadding": 4, "titlePadding": 8}},
    "color": {"field": "v", "type": "quantitative", "scale": {"domain": [0.003, 0.0575, 0.1822, 0.3069, 0.4316, 0.494], "range": ["#000090", "#0000ff", "#00ffff", "#ffff00", "#ff0000", "#800000"], "interpolate": "rgb"}, "legend": {"title": null, "values": [0.1, 0.2, 0.3, 0.4], "format": "~g"}}
  }
}
]
}
